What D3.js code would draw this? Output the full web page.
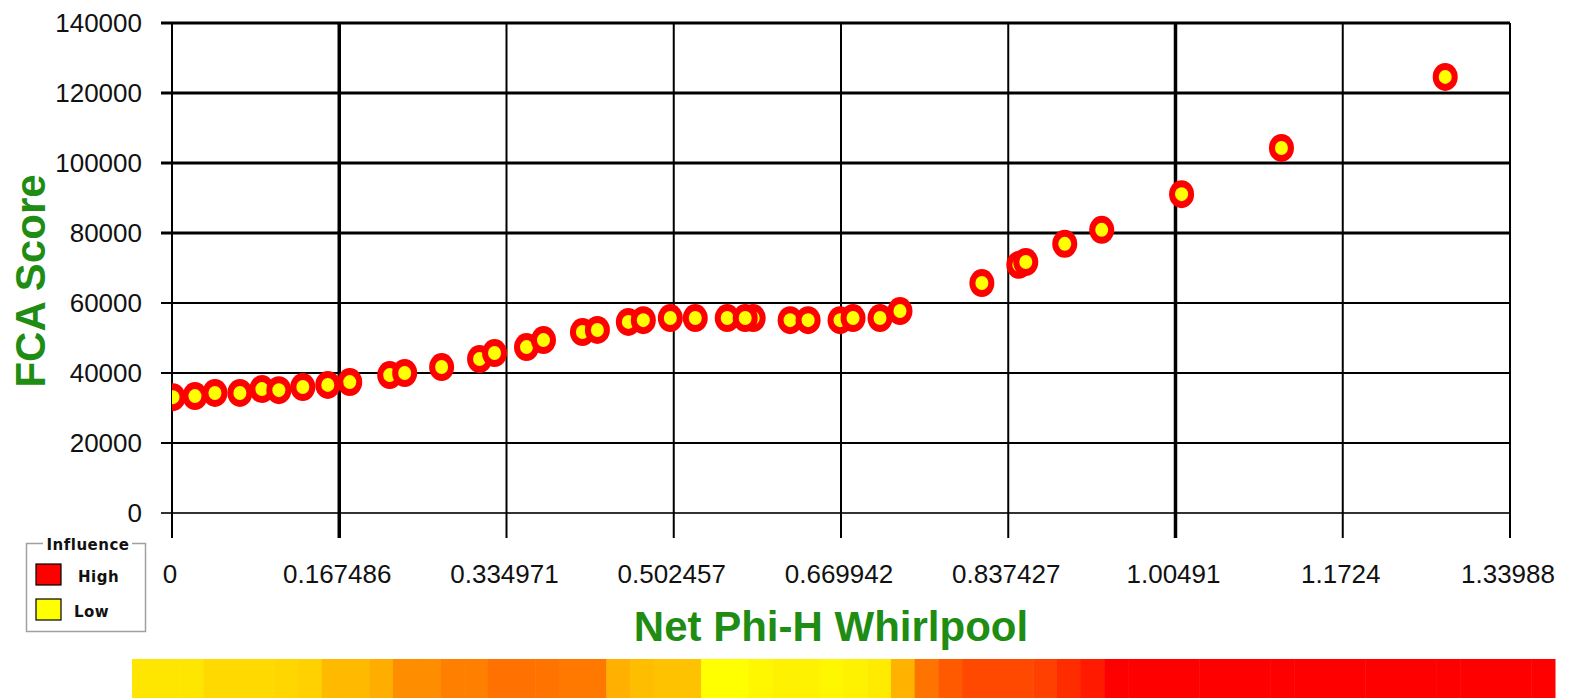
<!DOCTYPE html>
<html>
<head>
<meta charset="utf-8">
<script src="https://cdn.jsdelivr.net/npm/d3@7"></script>
<style>
  body { margin: 0; background: #fff; }
  svg { display: block; }
  .tick-label { font-family: "Liberation Sans", Arial, sans-serif; font-size: 26px; fill: #111; }
  .axis-title { font-family: "Liberation Sans", Arial, sans-serif; font-size: 42px; font-weight: bold; fill: #1f8c14; }
  .legend-text { font-family: "DejaVu Sans", sans-serif; font-size: 15px; font-weight: bold; fill: #111; }
</style>
</head>
<body>
<svg id="chart" width="1572" height="698"></svg>
<script>
// tick labels as printed on the chart
const xTicks = [0, 0.167486, 0.334971, 0.502457, 0.669942, 0.837427, 1.00491, 1.1724, 1.33988];
const yTicks = [0, 20000, 40000, 60000, 80000, 100000, 120000, 140000];

// scatter points (Net Phi-H Whirlpool, FCA Score)
const phiValues = [0.001, 0.023, 0.043, 0.068, 0.090, 0.107, 0.131, 0.156, 0.178,
  0.218, 0.233, 0.270, 0.308, 0.323, 0.355, 0.372, 0.411, 0.426, 0.457, 0.472,
  0.499, 0.524, 0.556, 0.582, 0.574, 0.619, 0.637, 0.669, 0.682, 0.709, 0.729,
  0.811, 0.848, 0.855, 0.894, 0.931, 1.011, 1.111, 1.275];
const fcaValues = [33100, 33400, 34300, 34300, 35400, 35100, 36000, 36600, 37400,
  39400, 40000, 41700, 44000, 45700, 47400, 49400, 51700, 52300, 54600, 55100,
  55700, 55700, 55700, 55700, 55700, 55100, 55100, 55100, 55700, 55700, 57700,
  65700, 70900, 71700, 76900, 80900, 91100, 104300, 124600];

// influence strip under the chart (0 = low / yellow, 1 = high / red)
const influenceCells = [0.1, 0.1, 0.1, 0.15, 0.15, 0.15, 0.16, 0.18, 0.27, 0.27,
  0.32, 0.45, 0.45, 0.5, 0.5, 0.56, 0.56, 0.55, 0.53, 0.53,
  0.31, 0.26, 0.24, 0.24, 0, 0, 0.03, 0.05, 0.05, 0.03,
  0.05, 0.08, 0.3, 0.55, 0.65, 0.72, 0.72, 0.72, 0.75, 0.83,
  0.9, 1, 1, 1, 1, 1, 1, 1, 1, 1,
  1, 1, 1, 1, 1, 1, 1, 1, 1, 1];

const legendItems = [{ name: "High", level: 1 }, { name: "Low", level: 0 }];

const svg = d3.select("#chart");
const plotLeft = 172, plotRight = 1510, plotTop = 23, plotBottom = 513;

const x = d3.scaleLinear().domain([0, 1.33988]).range([plotLeft, plotRight]);
const y = d3.scaleLinear().domain([0, 140000]).range([plotBottom, plotTop]);
const color = d3.scaleLinear().domain([0, 0.5, 1]).range(["#ffff00", "#ff8000", "#ff0000"]);

// grid
const grid = svg.append("g");
grid.selectAll("line.h").data(yTicks).enter().append("line")
  .attr("x1", plotLeft - 11).attr("x2", plotRight)
  .attr("y1", d => y(d)).attr("y2", d => y(d))
  .attr("stroke", d => d === 0 ? "#333" : "#000")
  .attr("stroke-width", d => d >= 80000 ? 3 : 2);
grid.selectAll("line.v").data(xTicks).enter().append("line")
  .attr("x1", d => x(d)).attr("x2", d => x(d))
  .attr("y1", plotTop).attr("y2", plotBottom + 25)
  .attr("stroke", "#000")
  .attr("stroke-width", (d, i) => (i === 1 || i === 6) ? 3.5 : 2);

// tick labels
svg.selectAll("text.y").data(yTicks).enter().append("text")
  .attr("class", "tick-label")
  .attr("x", 142).attr("y", d => y(d) + 9)
  .attr("text-anchor", "end")
  .text(d => d);
svg.selectAll("text.x").data(xTicks).enter().append("text")
  .attr("class", "tick-label")
  .attr("x", d => x(d) - 2).attr("y", 583)
  .attr("text-anchor", "middle")
  .text(d => d);

// points
svg.append("clipPath").attr("id", "plot-clip")
  .append("rect").attr("x", plotLeft).attr("y", plotTop - 15)
  .attr("width", plotRight - plotLeft).attr("height", plotBottom - plotTop + 15);

const pts = svg.append("g").attr("clip-path", "url(#plot-clip)")
  .selectAll("g").data(phiValues.map((v, i) => [v, fcaValues[i]]))
  .enter().append("g")
  .attr("transform", d => `translate(${x(d[0])},${y(d[1])})`);
pts.append("ellipse").attr("rx", 12.5).attr("ry", 14).attr("fill", "#ff0000");
pts.append("ellipse").attr("rx", 6.5).attr("ry", 7).attr("fill", "#ffff00");

// axis titles
svg.append("text").attr("class", "axis-title")
  .attr("x", 831).attr("y", 641)
  .attr("text-anchor", "middle")
  .text("Net Phi-H Whirlpool");
svg.append("text").attr("class", "axis-title")
  .attr("transform", "translate(45,281) rotate(-90)")
  .attr("text-anchor", "middle")
  .text("FCA Score");

// legend
const lg = svg.append("g");
lg.append("rect").attr("x", 26.5).attr("y", 543.5).attr("width", 119).attr("height", 88)
  .attr("fill", "#fff").attr("stroke", "#a0a0a0").attr("stroke-width", 1.5);
lg.append("rect").attr("x", 43).attr("y", 535).attr("width", 89).attr("height", 18).attr("fill", "#fff");
lg.append("text").attr("class", "legend-text")
  .attr("x", 88).attr("y", 550).attr("text-anchor", "middle")
  .attr("letter-spacing", 0.5)
  .text("Influence");
const li = lg.selectAll("g.item").data(legendItems).enter().append("g")
  .attr("transform", (d, i) => `translate(36,${564 + i * 35})`);
li.append("rect").attr("width", 25).attr("height", 21)
  .attr("fill", d => color(d.level)).attr("stroke", "#000").attr("stroke-width", 1.2);
li.append("text").attr("class", "legend-text")
  .attr("x", d => d.name === "High" ? 42 : 38).attr("y", 18)
  .attr("letter-spacing", 0.5)
  .text(d => d.name);

// influence strip
const band = d3.scaleBand().domain(d3.range(influenceCells.length)).range([132, 1555]);
svg.append("g").selectAll("rect").data(influenceCells).enter().append("rect")
  .attr("x", (d, i) => band(i)).attr("y", 659)
  .attr("width", band.bandwidth() + 0.5).attr("height", 39)
  .attr("fill", d => color(d));
</script>
</body>
</html>
